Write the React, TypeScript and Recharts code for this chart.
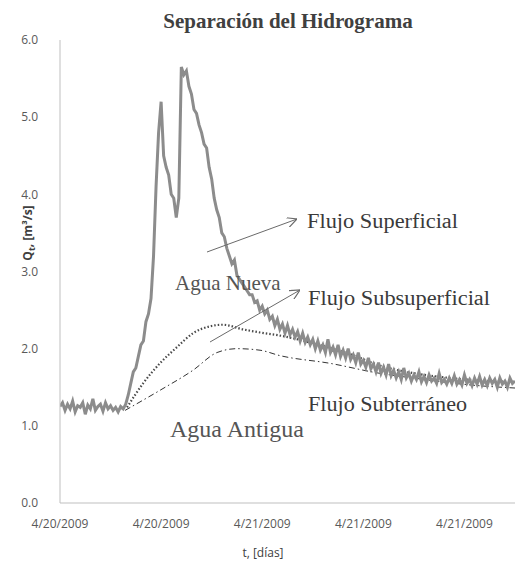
import React from 'react';
import { LineChart, Line, XAxis, YAxis } from 'recharts';

// paso de tiempo del hidrograma medido (horas)
const PASO_H = 0.15;

// caudal total medido Qt [m3/s], un valor cada 0.15 h
const caudalTotal = [
  1.25, 1.3, 1.2, 1.28, 1.22, 1.32, 1.18, 1.26, 1.24, 1.3,
  1.15, 1.27, 1.22, 1.35, 1.2, 1.25, 1.28, 1.19, 1.3, 1.22,
  1.26, 1.2, 1.24, 1.18, 1.25, 1.22, 1.28, 1.4, 1.55, 1.7,
  1.75, 1.9, 2.05, 2.1, 2.35, 2.45, 2.65, 3.2, 4.1, 4.8,
  5.2, 4.5, 4.35, 4.25, 4.0, 3.95, 3.7, 3.95, 5.65, 5.55,
  5.6, 5.4, 5.3, 5.1, 5.05, 4.9, 4.8, 4.65, 4.6, 4.35,
  4.2, 3.95, 3.8, 3.7, 3.5, 3.45, 3.3, 3.2, 3.1, 3.15,
  2.95, 2.9, 2.85, 2.8, 2.75, 2.7, 2.7, 2.6, 2.62, 2.5,
  2.55, 2.45, 2.5, 2.38, 2.42, 2.3, 2.38, 2.25, 2.32, 2.2,
  2.3, 2.18, 2.25, 2.15, 2.22, 2.1, 2.2, 2.08, 2.15, 2.05,
  2.12, 2.0, 2.1, 1.98, 2.05, 1.95, 2.12, 1.95, 2.02, 1.92,
  2.05, 1.9, 1.98, 1.88, 2.0, 1.86, 1.92, 1.82, 1.95, 1.8,
  1.85, 1.76, 1.88, 1.74, 1.8, 1.7, 1.82, 1.68, 1.76, 1.66,
  1.8, 1.65, 1.72, 1.62, 1.7, 1.6, 1.75, 1.62, 1.68, 1.58,
  1.66, 1.6, 1.7, 1.57, 1.64, 1.56, 1.66, 1.58, 1.62, 1.55,
  1.68, 1.56, 1.6, 1.54, 1.62, 1.55, 1.65, 1.54, 1.6, 1.53,
  1.66, 1.55, 1.6, 1.52, 1.62, 1.54, 1.64, 1.53, 1.6, 1.52,
  1.62, 1.55, 1.6, 1.5, 1.62, 1.54, 1.58, 1.5, 1.62, 1.55,
  1.58,
];

// flujo subsuperficial (curva punteada)
const subsupHoras = [3.98, 4.93, 5.93, 6.94, 7.89, 8.9, 9.67, 10.86, 11.87, 13.05, 15.01, 17.21, 18.99, 21.07, 23.14, 27];
const subsupCaudal = [1.24, 1.55, 1.81, 2.02, 2.2, 2.29, 2.31, 2.25, 2.21, 2.17, 2.07, 1.93, 1.78, 1.68, 1.62, 1.57];

// flujo subterráneo (curva raya-punto)
const subtHoras = [3.86, 5.93, 7.89, 9.32, 10.5, 11.87, 13.05, 16.02, 18.99, 20.95, 24.33, 27];
const subtCaudal = [1.2, 1.46, 1.72, 1.95, 2.0, 1.98, 1.91, 1.81, 1.68, 1.62, 1.53, 1.49];

const ticksHoras = [0, 6, 12, 18, 24];
const etiquetasFecha = ['4/20/2009', '4/20/2009', '4/21/2009', '4/21/2009', '4/21/2009'];
const ticksCaudal = [0, 1, 2, 3, 4, 5, 6];

const datosTotal = caudalTotal.map((q, i) => ({ t: +(i * PASO_H).toFixed(2), q }));
const datosSubsup = subsupHoras.map((t, i) => ({ t, q: subsupCaudal[i] }));
const datosSubt = subtHoras.map((t, i) => ({ t, q: subtCaudal[i] }));

const serif = '"Liberation Serif", "DejaVu Serif", serif';
const sans = '"Open Sans", "Liberation Sans", sans-serif';

export default function App() {
  return (
    <div style={{ position: 'absolute', left: 0, top: 0, width: 518, height: 563, background: '#fff' }}>
      <LineChart width={518} height={563} margin={{ top: 40, right: 3, bottom: 0, left: 0 }}>
        <XAxis
          type="number"
          dataKey="t"
          domain={[0, 27]}
          ticks={ticksHoras}
          tickFormatter={(v, i) => etiquetasFecha[i]}
          height={60}
          tickSize={0}
          tickMargin={16}
          tickLine={false}
          axisLine={{ stroke: '#bfbfbf' }}
          tick={{ fill: '#595959', fontSize: 12, fontFamily: sans }}
          allowDataOverflow
        />
        <YAxis
          type="number"
          dataKey="q"
          domain={[0, 6]}
          ticks={ticksCaudal}
          tickFormatter={(v) => v.toFixed(1)}
          width={60}
          tickSize={0}
          tickMargin={22}
          tickLine={false}
          axisLine={{ stroke: '#bfbfbf' }}
          tick={{ fill: '#595959', fontSize: 12, fontFamily: sans }}
        />
        <Line
          data={datosSubt}
          dataKey="q"
          type="monotone"
          stroke="#333"
          strokeWidth={1}
          strokeDasharray="6 3 1.5 3"
          dot={false}
          isAnimationActive={false}
        />
        <Line
          data={datosSubsup}
          dataKey="q"
          type="monotone"
          stroke="#4a4a4a"
          strokeWidth={2.2}
          strokeDasharray="1.5 2"
          dot={false}
          isAnimationActive={false}
        />
        <Line
          data={datosTotal}
          dataKey="q"
          type="linear"
          stroke="#8c8c8c"
          strokeWidth={3}
          dot={false}
          isAnimationActive={false}
        />
      </LineChart>

      <svg width={518} height={563} style={{ position: 'absolute', left: 0, top: 0, pointerEvents: 'none' }}>
        <defs>
          <marker id="flecha" viewBox="0 0 10 10" refX="10" refY="5" markerWidth="10" markerHeight="10" markerUnits="userSpaceOnUse" orient="auto">
            <path d="M0,0 L10,5 L0,10" fill="none" stroke="#6a6a6a" strokeWidth="1.2" />
          </marker>
        </defs>
        <text x={288} y={28} textAnchor="middle" fontFamily={serif} fontWeight="bold" fontSize={21} fill="#404040">
          Separación del Hidrograma
        </text>

        <line x1={207} y1={252} x2={297} y2={219} stroke="#6a6a6a" strokeWidth={1} markerEnd="url(#flecha)" />
        <line x1={210} y1={342} x2={300} y2={290} stroke="#6a6a6a" strokeWidth={1} markerEnd="url(#flecha)" />

        <text x={307} y={228} fontFamily={serif} fontSize={20} fill="#3a3a3a" textLength={151} lengthAdjust="spacingAndGlyphs">Flujo Superficial</text>
        <text x={175} y={290} fontFamily={serif} fontSize={21} fill="#555">Agua Nueva</text>
        <text x={308} y={305} fontFamily={serif} fontSize={20} fill="#3a3a3a" textLength={182} lengthAdjust="spacingAndGlyphs">Flujo Subsuperficial</text>
        <text x={308} y={411} fontFamily={serif} fontSize={20} fill="#3a3a3a" textLength={159} lengthAdjust="spacingAndGlyphs">Flujo Subterráneo</text>
        <text x={170} y={437} fontFamily={serif} fontSize={24} fill="#555">Agua Antigua</text>

        <text x={32} y={233} transform="rotate(-90 32 233)" textAnchor="middle" fontFamily={sans} fontSize={12} fontWeight="bold" fill="#404040">
          Q<tspan fontSize={9} dy={3}>t</tspan><tspan dy={-3}>, [m³/s]</tspan>
        </text>
        <text x={263} y={557} textAnchor="middle" fontFamily={sans} fontSize={12} fill="#404040">
          t, [días]
        </text>
      </svg>
    </div>
  );
}
